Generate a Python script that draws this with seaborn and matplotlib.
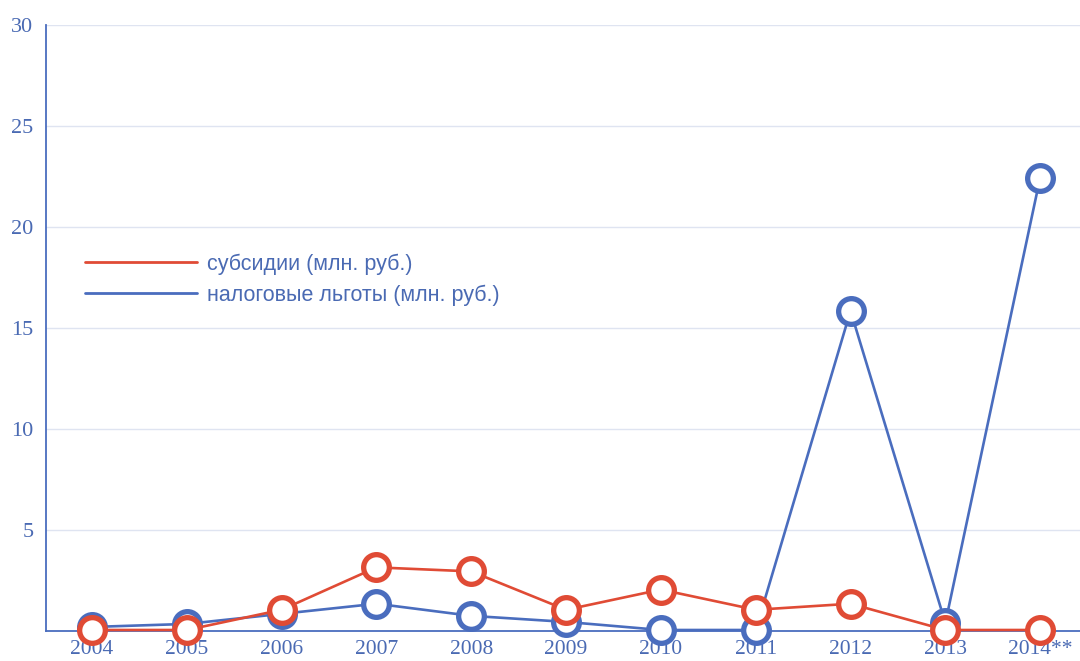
import numpy as np
import pandas as pd
import matplotlib
matplotlib.use("Agg")
import matplotlib.pyplot as plt
import seaborn as sns

# ---------------------------------------------------------------------------
# data
# ---------------------------------------------------------------------------
years = ["2004", "2005", "2006", "2007", "2008", "2009",
         "2010", "2011", "2012", "2013", "2014**"]
subsidies = [0.05, 0.05, 1.05, 3.15, 2.95, 1.05, 2.05, 1.05, 1.35, 0.05, 0.05]
tax_breaks = [0.2, 0.35, 0.85, 1.35, 0.75, 0.45, 0.05, 0.05, 15.85, 0.4, 22.45]

label_sub = "субсидии (млн. руб.)"
label_tax = "налоговые льготы (млн. руб.)"

RED = "#E04B35"
BLUE = "#4A6DBE"
TEXT = "#4A6AB3"
GRID = "#DFE4F1"

sns.set_theme(style="white")
plt.rcParams["font.family"] = ["Liberation Sans", "DejaVu Sans"]

df = pd.DataFrame({"pos": np.arange(len(years)),
                   "sub": subsidies, "tax": tax_breaks})

fig = plt.figure(figsize=(10.8, 6.61), dpi=100)
ax = fig.add_axes([46 / 1080, 1 - 631 / 661, 1 - 46 / 1080, (631 - 25) / 661])

mk = dict(marker="o", markersize=18.5, markerfacecolor="white",
          markeredgewidth=3.8, linewidth=1.9, clip_on=False)
sns.lineplot(data=df, x="pos", y="tax", ax=ax, color=BLUE,
             markeredgecolor=BLUE, label=label_tax, zorder=3, **mk)
sns.lineplot(data=df, x="pos", y="sub", ax=ax, color=RED,
             markeredgecolor=RED, label=label_sub, zorder=4, **mk)

ax.set_xlim(-0.485, 10.42)
ax.set_ylim(0, 30)
ax.set_yticks(range(0, 31, 5))
ax.set_yticklabels(["", "5", "10", "15", "20", "25", "30"],
                   family="Liberation Serif", fontsize=16, color=TEXT)
ax.set_xticks(df["pos"])
ax.set_xticklabels(years, family="Liberation Serif", fontsize=15.5, color=TEXT)
ax.tick_params(axis="both", length=0)
ax.tick_params(axis="x", pad=6.5)
ax.tick_params(axis="y", pad=9)
ax.set_xlabel("")
ax.set_ylabel("")

for y in range(5, 31, 5):
    ax.axhline(y, color=GRID, linewidth=1, zorder=0)

for side in ["top", "right"]:
    ax.spines[side].set_visible(False)
for side in ["left", "bottom"]:
    ax.spines[side].set_color(BLUE)
    ax.spines[side].set_linewidth(1.3)

handles = [plt.Line2D([], [], color=RED, linewidth=2),
           plt.Line2D([], [], color=BLUE, linewidth=2)]
leg = ax.legend(handles, [label_sub, label_tax], loc="upper left",
                bbox_to_anchor=(66 / 1080, 1 - 234 / 661),
                bbox_transform=fig.transFigure, frameon=False,
                fontsize=15.5, handlelength=5.2, handletextpad=0.45,
                labelspacing=0.45)
for t in leg.get_texts():
    t.set_color(TEXT)

fig.savefig("out.png", dpi=100)
